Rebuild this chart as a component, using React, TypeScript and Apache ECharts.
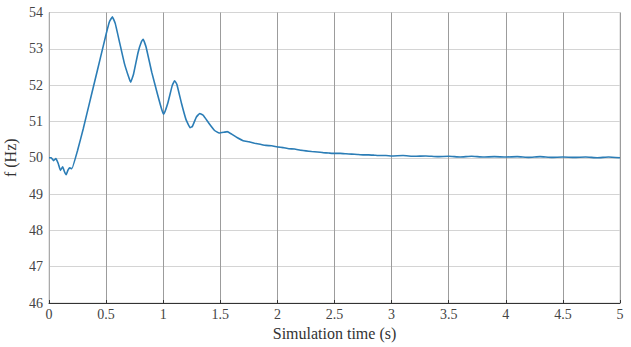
import React, { useEffect, useRef } from "react";
import * as echarts from "echarts";

const timeS: number[] = [
  0, 0.02, 0.04, 0.06, 0.08, 0.1, 0.12, 0.135, 0.15, 0.165, 0.18, 0.2,
  0.25, 0.3, 0.35, 0.4, 0.45, 0.5, 0.53, 0.555, 0.58, 0.62, 0.66, 0.7, 0.715,
  0.74, 0.78, 0.81, 0.825, 0.85, 0.9, 0.95, 0.99, 1.005, 1.04, 1.08, 1.1, 1.12,
  1.16, 1.2, 1.235, 1.255, 1.29, 1.32, 1.35, 1.4, 1.45, 1.49, 1.53, 1.56, 1.6,
  1.65, 1.7, 1.75, 1.8, 1.85, 1.9, 1.95, 2.0, 2.05, 2.1, 2.15, 2.2, 2.25, 2.3,
  2.35, 2.4, 2.45, 2.5, 2.55, 2.6, 2.65, 2.7, 2.75, 2.8, 2.85, 2.9, 2.95, 3.0,
  3.1, 3.2, 3.3, 3.4, 3.5, 3.6, 3.7, 3.8, 3.9, 4.0, 4.1, 4.2, 4.3, 4.4, 4.5,
  4.6, 4.7, 4.8, 4.9, 5.0,
];

const freqHz: number[] = [
  50.0, 50.0, 49.92, 49.98, 49.85, 49.65, 49.75, 49.62, 49.53, 49.65, 49.72, 49.7,
  50.2, 50.8, 51.45, 52.1, 52.75, 53.4, 53.75, 53.88, 53.7, 53.15, 52.6, 52.2, 52.08,
  52.3, 52.9, 53.2, 53.26, 53.05, 52.35, 51.75, 51.3, 51.2, 51.5, 52.0, 52.12, 52.02,
  51.5, 51.05, 50.83, 50.86, 51.12, 51.22, 51.17, 50.95, 50.75, 50.68, 50.7, 50.72, 50.65,
  50.55, 50.47, 50.44, 50.4, 50.37, 50.34, 50.33, 50.3, 50.28, 50.25, 50.24, 50.21, 50.19, 50.17,
  50.16, 50.14, 50.13, 50.12, 50.12, 50.11, 50.1, 50.09, 50.08, 50.08, 50.07, 50.06, 50.06, 50.05,
  50.06, 50.04, 50.05, 50.03, 50.04, 50.02, 50.04, 50.02, 50.03, 50.02, 50.03, 50.01, 50.03, 50.01, 50.02,
  50.01, 50.02, 50.0, 50.02, 50.0,
];

const xTicks = { min: 0, max: 5, interval: 0.5 };
const yTicks = { min: 46, max: 54, interval: 1 };

export default function App() {
  const ref = useRef<HTMLDivElement>(null);
  useEffect(() => {
    document.body.style.margin = "0";
    if (!ref.current) return;
    const chart = echarts.init(ref.current, undefined, { renderer: "svg" });
    const font = "Times New Roman";
    chart.setOption({
      animation: false,
      backgroundColor: "#ffffff",
      textStyle: { fontFamily: font },
      grid: {
        left: 49,
        right: 11,
        top: 12.5,
        bottom: 44,
        show: true,
        borderColor: "#cfcfcf",
        borderWidth: 1,
        containLabel: false,
        outerBoundsMode: "none",
      },
      xAxis: {
        type: "value",
        min: xTicks.min,
        max: xTicks.max,
        interval: xTicks.interval,
        name: "Simulation time (s)",
        nameLocation: "middle",
        nameGap: 22,
        nameTextStyle: { fontFamily: font, fontSize: 16, color: "#333" },
        axisLine: { show: true, lineStyle: { color: "#333", width: 1 } },
        axisTick: { show: true, inside: true, length: 3, lineStyle: { color: "#333" } },
        axisLabel: { fontFamily: font, fontSize: 14, color: "#444", margin: 4 },
        splitLine: { show: true, lineStyle: { color: "#9c9c9c", width: 1 } },
      },
      yAxis: {
        type: "value",
        min: yTicks.min,
        max: yTicks.max,
        interval: yTicks.interval,
        name: "f (Hz)",
        nameLocation: "middle",
        nameGap: 27,
        nameRotate: 90,
        nameTextStyle: { fontFamily: font, fontSize: 16, color: "#333" },
        axisLine: { show: true, lineStyle: { color: "#aaa", width: 1 } },
        axisTick: { show: false },
        axisLabel: { fontFamily: font, fontSize: 14, color: "#444", margin: 6 },
        splitLine: { show: true, lineStyle: { color: "#d4d4d4", width: 1 } },
      },
      series: [
        {
          type: "line",
          data: timeS.map((t, i) => [t, freqHz[i]]),
          showSymbol: false,
          smooth: 0.1,
          lineStyle: { color: "#2b7db6", width: 1.6 },
        },
      ],
    });
    return () => chart.dispose();
  }, []);
  return <div ref={ref} style={{ width: 631, height: 347 }} />;
}
